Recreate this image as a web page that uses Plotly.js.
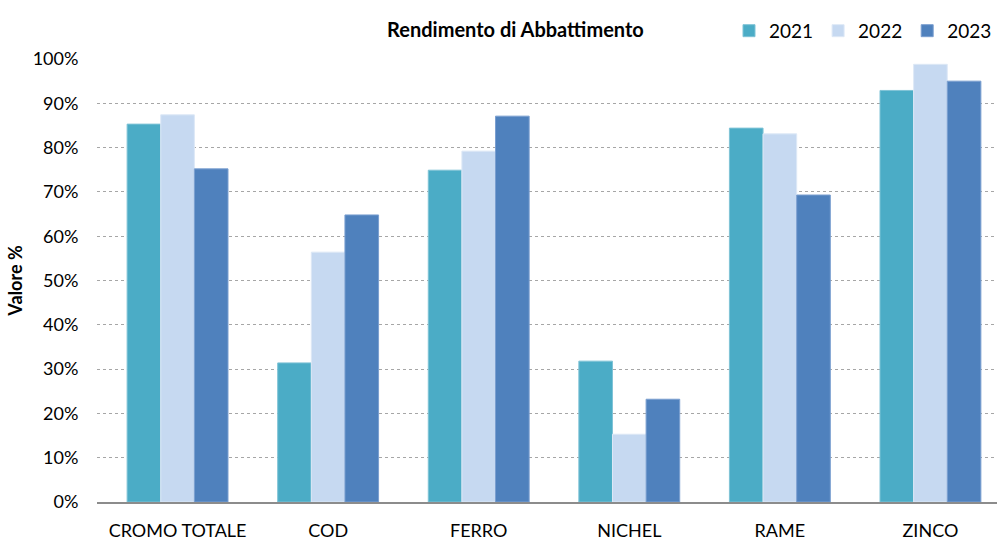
<!DOCTYPE html>
<html><head><meta charset="utf-8">
<script src="https://cdn.plot.ly/plotly-3.0.1.min.js"></script>
<style>html,body{margin:0;padding:0;background:#fff}#chart{width:997px;height:541px}</style>
</head><body><div id="chart"></div>
<script>
const categories = ["CROMO TOTALE", "COD", "FERRO", "NICHEL", "RAME", "ZINCO"];
const years = ["2021", "2022", "2023"];
const values2021 = [0.853, 0.314, 0.749, 0.318, 0.844, 0.929];
const values2022 = [0.874, 0.564, 0.792, 0.153, 0.831, 0.988];
const values2023 = [0.752, 0.648, 0.871, 0.232, 0.693, 0.950];
const yTickVals = [0, 0.1, 0.2, 0.3, 0.4, 0.5, 0.6, 0.7, 0.8, 0.9, 1.0];
const colors = ["#4BACC6", "#C6D9F1", "#4F81BD"];
const lines = ["#7FC3D6", "#DDE8F6", "#7A9FD0"];
const series = [values2021, values2022, values2023];
const font = "Lato, 'Open Sans', sans-serif";
const traces = series.map((v, i) => ({
  type: "bar", name: years[i], x: categories.map((c, k) => k), y: v,
  marker: {color: colors[i], line: {color: lines[i], width: 1}},
  hoverinfo: "skip"
}));
const layout = {
  width: 997, height: 541,
  margin: {l: 97, r: 0, t: 59, b: 39},
  paper_bgcolor: "#fff", plot_bgcolor: "#fff",
  barmode: "group", bargap: 0.33, bargroupgap: 0,
  font: {family: font, size: 18, color: "#000"},
  title: {text: "<b>Rendimento di Abbattimento</b>", x: 0.517, xanchor: "center", y: 0.945, yanchor: "middle", font: {family: font, size: 20, color: "#000"}},
  showlegend: true,
  legend: {orientation: "h", x: 0.711, xanchor: "left", y: 0.943, yanchor: "middle", yref: "container", font: {family: font, size: 19}, itemwidth: 30, tracegroupgap: 0, bgcolor: "rgba(0,0,0,0)"},
  xaxis: {
    range: [-0.535, 5.442], tickmode: "array", tickvals: categories.map((c, k) => k), ticktext: categories,
    showgrid: false, zeroline: false, showline: true, linecolor: "#8C8C8C", linewidth: 1.5,
    ticks: "outside", ticklen: 12, tickcolor: "rgba(0,0,0,0)", tickfont: {family: font, size: 18}
  },
  yaxis: {
    range: [0, 1.0], tickmode: "array", tickvals: yTickVals, tickformat: ".0%",
    showgrid: true, gridcolor: "#A6A6A6", griddash: "dot", gridwidth: 1,
    zeroline: false, showline: false,
    ticks: "outside", ticklen: 14, tickcolor: "rgba(0,0,0,0)", tickfont: {family: font, size: 18},
    title: {text: "<b>Valore %</b>", font: {family: font, size: 18}, standoff: 5}
  }
};
Plotly.newPlot("chart", traces, layout, {displayModeBar: false, staticPlot: true});
</script></body></html>
